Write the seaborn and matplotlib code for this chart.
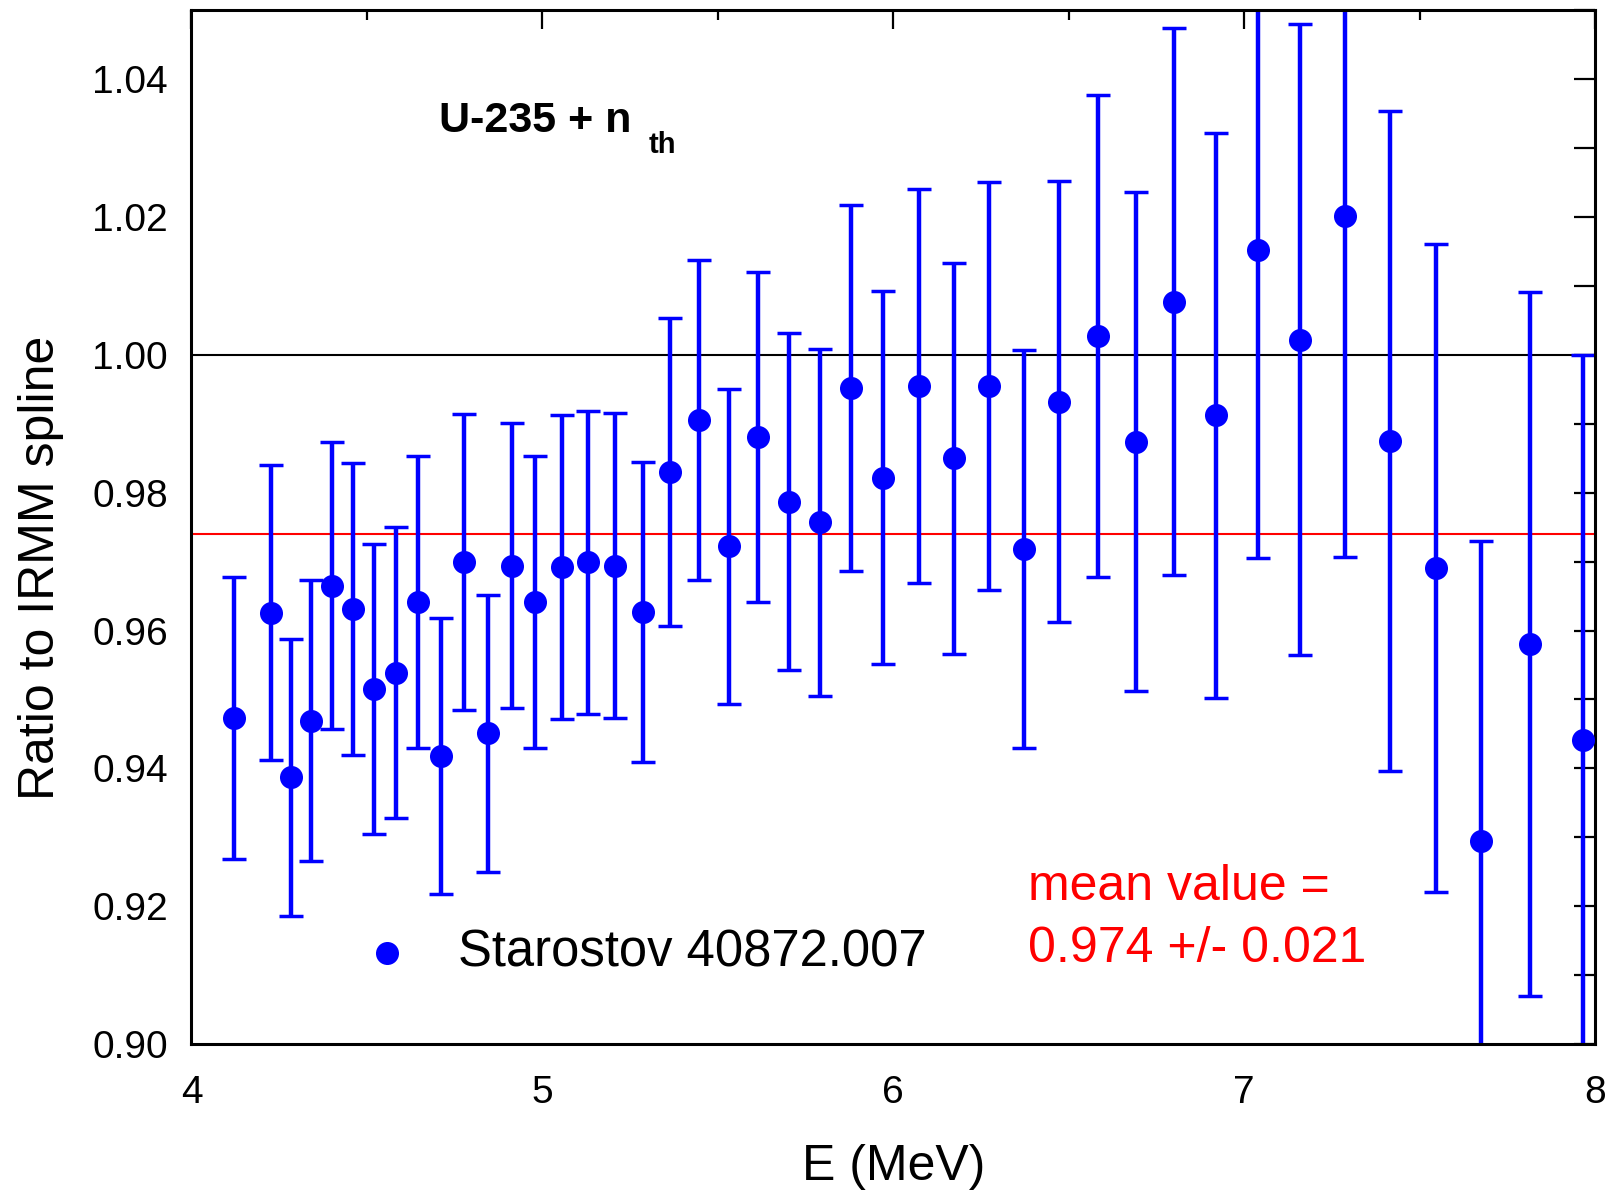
import matplotlib
matplotlib.use("Agg")
import matplotlib.pyplot as plt
import matplotlib.ticker as mticker
import seaborn as sns
import pandas as pd

# ---- data ----
energy = [4.120, 4.228, 4.285, 4.341, 4.401, 4.460, 4.521, 4.582, 4.645, 4.712,
          4.777, 4.846, 4.914, 4.979, 5.057, 5.130, 5.206, 5.286, 5.363, 5.445,
          5.531, 5.615, 5.702, 5.791, 5.881, 5.972, 6.072, 6.173, 6.272, 6.373,
          6.472, 6.584, 6.692, 6.800, 6.919, 7.039, 7.158, 7.288, 7.416, 7.546,
          7.674, 7.814, 7.965]
ratio = [0.9473, 0.9626, 0.9387, 0.9469, 0.9665, 0.9631, 0.9515, 0.9539, 0.9641, 0.9418,
         0.9699, 0.9451, 0.9694, 0.9641, 0.9692, 0.9699, 0.9694, 0.9627, 0.9830, 0.9906,
         0.9722, 0.9881, 0.9787, 0.9757, 0.9952, 0.9822, 0.9955, 0.9850, 0.9955, 0.9718,
         0.9932, 1.0027, 0.9874, 1.0077, 0.9912, 1.0152, 1.0022, 1.0201, 0.9875, 0.9691,
         0.9294, 0.9580, 0.9441]
error = [0.0205, 0.0214, 0.0201, 0.0204, 0.0208, 0.0212, 0.0210, 0.0211, 0.0212, 0.0200,
         0.0215, 0.0201, 0.0207, 0.0212, 0.0220, 0.0220, 0.0221, 0.0218, 0.0224, 0.0232,
         0.0228, 0.0239, 0.0245, 0.0252, 0.0266, 0.0271, 0.0286, 0.0284, 0.0296, 0.0289,
         0.0320, 0.0350, 0.0362, 0.0397, 0.0410, 0.0447, 0.0458, 0.0494, 0.0479, 0.0470,
         0.0436, 0.0511, 0.0559]
mean_value = 0.974
reference_value = 1.00
series_label = "Starostov 40872.007"
x_ticks = [4, 5, 6, 7, 8]
y_ticks = [0.90, 0.92, 0.94, 0.96, 0.98, 1.00, 1.02, 1.04]

df = pd.DataFrame({"E": energy, "ratio": ratio, "err": error})

sns.set_style("white")
plt.rcParams["font.family"] = ["Liberation Sans", "DejaVu Sans"]
for key in ["text.color", "axes.labelcolor", "xtick.color", "ytick.color"]:
    plt.rcParams[key] = "black"

fig = plt.figure(figsize=(16.16, 11.96), dpi=100)
ax = fig.add_axes([0.1185, 0.1271, 0.8685, 0.8643])

ax.axhline(reference_value, color="black", lw=1.5, zorder=1)
ax.axhline(mean_value, color="red", lw=1.5, zorder=1)

ax.errorbar(df["E"], df["ratio"], yerr=df["err"], fmt="none", ecolor="#0000ff",
            elinewidth=3.2, capsize=8.3, capthick=2.5, zorder=2)
sns.scatterplot(data=df, x="E", y="ratio", ax=ax, color="#0000ff", s=275,
                linewidth=0, label=series_label, zorder=3)

ax.set_xlim(4, 8)
ax.set_ylim(0.90, 1.05)
ax.set_xticks(x_ticks)
ax.set_xticklabels([str(v) for v in x_ticks])
ax.set_yticks(y_ticks)
ax.yaxis.set_major_formatter(mticker.FormatStrFormatter("%.2f"))
ax.xaxis.set_minor_locator(mticker.MultipleLocator(0.5))
ax.yaxis.set_minor_locator(mticker.MultipleLocator(0.01))

ax.tick_params(which="both", direction="in", top=True, right=True, width=1.6,
               color="black", labelcolor="black", labelsize=28)
ax.tick_params(axis="y", which="both", length=15, pad=17)
ax.tick_params(axis="x", which="major", length=14, pad=22)
ax.tick_params(axis="x", which="minor", length=7)
for sp in ax.spines.values():
    sp.set_linewidth(2.2)
    sp.set_color("black")

ax.set_xlabel("E (MeV)", fontsize=36)
ax.set_ylabel("Ratio to IRMM spline", fontsize=36)
ax.xaxis.set_label_coords(0.5, -0.0963)
ax.xaxis.label.set_va("top")
ax.yaxis.set_label_coords(-0.0908, 0.461)

# title with subscript
t = ax.text(0.176, 0.8823, "U-235 + n", transform=ax.transAxes, fontsize=31,
            fontweight="bold", va="baseline", ha="left")
ax.annotate("th", xy=(1, 0), xycoords=t, xytext=(13, -13), textcoords="offset points",
            fontsize=21, fontweight="bold", va="bottom", ha="left")

ax.text(0.596, 0.1393, "mean value =", transform=ax.transAxes, fontsize=36,
        color="red", va="baseline", ha="left")
ax.text(0.596, 0.0793, "0.974 +/- 0.021", transform=ax.transAxes, fontsize=36,
        color="red", va="baseline", ha="left")

ax.legend(loc="lower left", bbox_to_anchor=(0.1211, 0.0648), frameon=False,
          fontsize=36.5, handlelength=1.0, handletextpad=0.9, borderpad=0,
          borderaxespad=0)

fig.savefig("out.png", dpi=100)
